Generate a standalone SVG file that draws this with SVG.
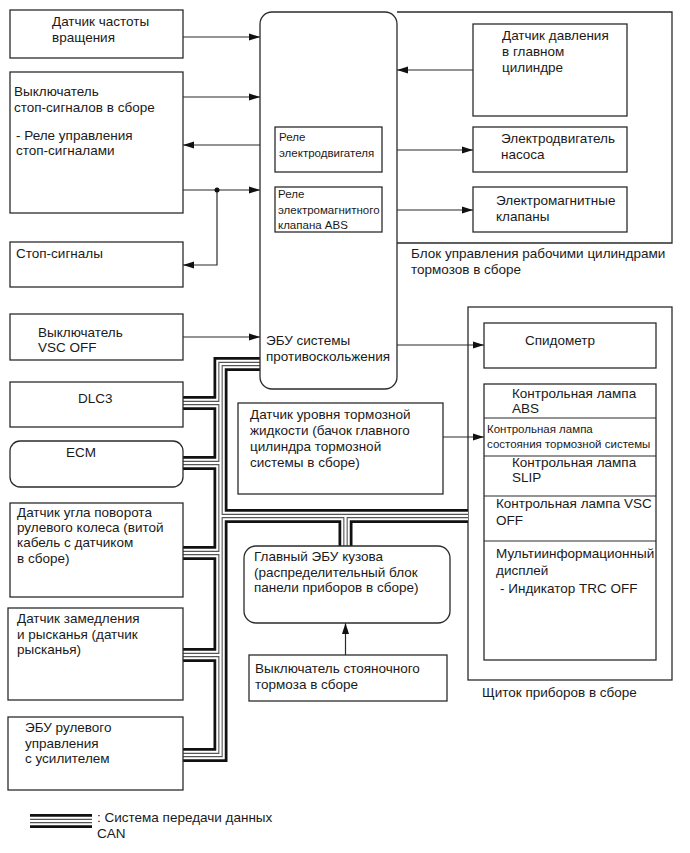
<svg xmlns="http://www.w3.org/2000/svg" width="690" height="853" viewBox="0 0 690 853">
<style>
text{font-family:"Liberation Sans",Arial,sans-serif;font-size:13.5px;fill:#1a1a1a}
.s{font-size:11.5px}
.box{fill:#fff;stroke:#2b2b2b;stroke-width:1.3}
.frame{fill:none;stroke:#2b2b2b;stroke-width:1.3}
.ln{fill:none;stroke:#2b2b2b;stroke-width:1.2}
.b1{fill:none;stroke:#111;stroke-width:14}
.b2{fill:none;stroke:#fff;stroke-width:8.5}
.b3{fill:none;stroke:#555;stroke-width:4.4}
.b4{fill:none;stroke:#fff;stroke-width:2.2}
</style>
<defs>
<marker id="ah" markerUnits="userSpaceOnUse" markerWidth="11" markerHeight="8" refX="11" refY="4" orient="auto"><path d="M0,0.5 L11,4 L0,7.5z" fill="#111"/></marker>
<path id="bus" d="M260,364 H220.5 V755 H183 M220.5,403 H183 M220.5,463 H183 M220.5,553 H183 M220.5,655 H183 M220.5,516 H468 M345.5,516 V546"/>
<path id="legbus" d="M30,821 H92"/>
</defs>
<rect width="690" height="853" fill="#fff"/>

<g id="frames">
<path class="frame" d="M397,12 H672 V243 H397"/>
<text x="411" y="258">Блок управления рабочими цилиндрами</text>
<text x="411" y="274">тормозов в сборе</text>
<rect class="frame" x="468" y="307" width="204" height="373"/>
<text x="482" y="697">Щиток приборов в сборе</text>
</g>

<g id="can-bus">
<use href="#bus" class="b1"/>
<use href="#bus" class="b2"/>
<use href="#bus" class="b3"/>
<use href="#bus" class="b4"/>
</g>

<g id="connectors">
<path class="ln" d="M183,37 H260" marker-end="url(#ah)"/>
<path class="ln" d="M183,97 H260" marker-end="url(#ah)"/>
<path class="ln" d="M260,145 H183" marker-end="url(#ah)"/>
<path class="ln" d="M183,190 H260" marker-end="url(#ah)"/>
<path class="ln" d="M217,190 V265 H183" marker-end="url(#ah)"/>
<circle cx="217" cy="190" r="2.5" fill="#111"/>
<path class="ln" d="M473,70 H397" marker-end="url(#ah)"/>
<path class="ln" d="M382,150 H473" marker-end="url(#ah)"/>
<path class="ln" d="M382,210 H473" marker-end="url(#ah)"/>
<path class="ln" d="M183,337 H260" marker-end="url(#ah)"/>
<path class="ln" d="M397,345 H484" marker-end="url(#ah)"/>
<path class="ln" d="M443,437 H484" marker-end="url(#ah)"/>
<path class="ln" d="M345.5,655 V623" marker-end="url(#ah)"/>
</g>

<g id="speed-sensor">
<rect class="box" x="10" y="10" width="173" height="48"/>
<text x="52" y="26">Датчик частоты</text>
<text x="52" y="42">вращения</text>
</g>

<g id="stop-switch">
<rect class="box" x="10" y="72" width="173" height="141"/>
<text x="14" y="96">Выключатель</text>
<text x="14" y="112">стоп-сигналов в сборе</text>
<text x="16" y="140">- Реле управления</text>
<text x="16" y="155">стоп-сигналами</text>
</g>

<g id="stop-lights">
<rect class="box" x="10" y="242" width="173" height="45"/>
<text x="16" y="258">Стоп-сигналы</text>
</g>

<g id="vsc-off-switch">
<rect class="box" x="10" y="314" width="173" height="46"/>
<text x="38" y="337">Выключатель</text>
<text x="38" y="352">VSC OFF</text>
</g>

<g id="dlc3">
<rect class="box" x="10" y="382" width="173" height="45"/>
<text x="78" y="403">DLC3</text>
</g>

<g id="ecm">
<rect class="box" x="10" y="441" width="173" height="46" rx="10"/>
<text x="66" y="457">ECM</text>
</g>

<g id="steering-sensor">
<rect class="box" x="10" y="503" width="173" height="94"/>
<text x="17" y="517">Датчик угла поворота</text>
<text x="17" y="532">рулевого колеса (витой</text>
<text x="17" y="547">кабель с датчиком</text>
<text x="17" y="563">в сборе)</text>
</g>

<g id="yaw-sensor">
<rect class="box" x="8" y="608" width="175" height="92"/>
<text x="17" y="623">Датчик замедления</text>
<text x="17" y="639">и рысканья (датчик</text>
<text x="17" y="654">рысканья)</text>
</g>

<g id="eps-ecu">
<rect class="box" x="8" y="717" width="175" height="73"/>
<text x="25" y="732">ЭБУ рулевого</text>
<text x="25" y="748">управления</text>
<text x="25" y="763">с усилителем</text>
</g>

<g id="skid-ecu">
<rect class="box" x="260" y="12" width="137" height="377" rx="12"/>
<text x="266" y="345">ЭБУ системы</text>
<text x="266" y="361">противоскольжения</text>
</g>

<g id="motor-relay">
<rect class="box" x="275" y="127" width="107" height="45"/>
<text class="s" x="279" y="141">Реле</text>
<text class="s" x="279" y="157">электродвигателя</text>
</g>

<g id="abs-relay">
<rect class="box" x="275" y="187" width="107" height="45"/>
<text class="s" x="278" y="198">Реле</text>
<text class="s" x="278" y="214">электромагнитного</text>
<text class="s" x="278" y="229">клапана ABS</text>
</g>

<g id="pressure-sensor">
<rect class="box" x="473" y="24" width="154" height="92"/>
<text x="502" y="40">Датчик давления</text>
<text x="502" y="56">в главном</text>
<text x="502" y="72">цилиндре</text>
</g>

<g id="pump-motor">
<rect class="box" x="473" y="127" width="154" height="45"/>
<text x="501" y="143">Электродвигатель</text>
<text x="501" y="159">насоса</text>
</g>

<g id="solenoids">
<rect class="box" x="473" y="187" width="154" height="45"/>
<text x="496" y="205">Электромагнитные</text>
<text x="496" y="221">клапаны</text>
</g>

<g id="fluid-level-sensor">
<rect class="box" x="238" y="403" width="205" height="91"/>
<text x="250" y="419">Датчик уровня тормозной</text>
<text x="250" y="435">жидкости (бачок главного</text>
<text x="250" y="451">цилиндра тормозной</text>
<text x="250" y="467">системы в сборе)</text>
</g>

<g id="body-ecu">
<rect class="box" x="244" y="546" width="206" height="77" rx="12"/>
<text x="254" y="561">Главный ЭБУ кузова</text>
<text x="254" y="577">(распределительный блок</text>
<text x="254" y="592">панели приборов в сборе)</text>
</g>

<g id="parking-brake-switch">
<rect class="box" x="249" y="655" width="198" height="46"/>
<text x="255" y="673">Выключатель стояночного</text>
<text x="255" y="689">тормоза в сборе</text>
</g>

<g id="speedometer">
<rect class="box" x="484" y="323" width="172" height="45"/>
<text x="525" y="345">Спидометр</text>
</g>

<g id="indicators">
<rect class="box" x="484" y="384" width="172" height="276"/>
<path class="ln" d="M484,418 H656 M484,456 H656 M484,496 H656 M484,541 H656"/>
<text x="512" y="398">Контрольная лампа</text>
<text x="512" y="413">ABS</text>
<text class="s" x="487" y="433">Контрольная лампа</text>
<text class="s" x="487" y="448">состояния тормозной системы</text>
<text x="512" y="467">Контрольная лампа</text>
<text x="512" y="482">SLIP</text>
<text x="496" y="508">Контрольная лампа VSC</text>
<text x="496" y="525">OFF</text>
<text x="496" y="558">Мультиинформационный</text>
<text x="496" y="575">дисплей</text>
<text x="500" y="593">- Индикатор TRC OFF</text>
</g>

<g id="legend">
<use href="#legbus" class="b1"/>
<use href="#legbus" class="b2"/>
<use href="#legbus" class="b3"/>
<use href="#legbus" class="b4"/>
<text x="97" y="822">: Система передачи данных</text>
<text x="97" y="838">CAN</text>
</g>
</svg>
